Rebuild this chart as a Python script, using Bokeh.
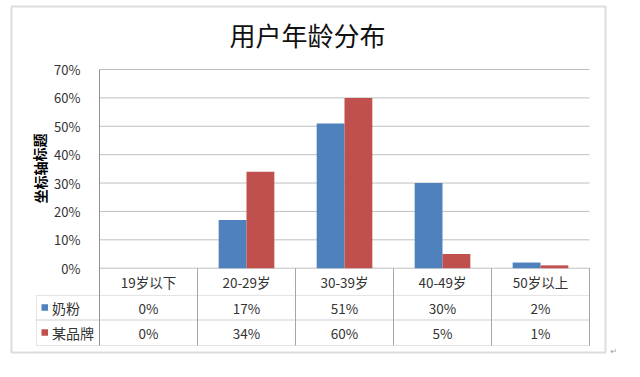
from bokeh.plotting import figure
from bokeh.models import (ColumnDataSource, Range1d, FixedTicker, PrintfTickFormatter,
                          BoxAnnotation, Label, LinearAxis)
from bokeh.transform import dodge
from bokeh.core.properties import value
from bokeh.embed import file_html
from bokeh.resources import INLINE

# ---------------- data ----------------
chart_title = "用户年龄分布"
y_axis_title = "坐标轴标题"
categories = ["19岁以下", "20-29岁", "30-39岁", "40-49岁", "50岁以上"]
series_names = ["奶粉", "某品牌"]
milk_powder = [0, 17, 51, 30, 2]
some_brand = [0, 34, 60, 5, 1]
y_ticks = [0, 10, 20, 30, 40, 50, 60, 70]

# ---------------- styles / layout ----------------
BLUE, RED = "#4F81BD", "#C0504D"
GRID = "#c0c0c0"
TABLE_LINE = "#a6a6a6"
AXIS_LINE = "#909090"
TEXT = "#333333"
FONT = "Noto Sans CJK SC"

W, H = 624, 361
PLOT_L, PLOT_R = 99, 589   # pixel positions on the page
PLOT_T, ZERO_Y, TABLE_B = 69, 267.7, 345
ROW1_B, ROW2_B = 295, 319.5
LEG_L = 36
N = len(categories)
XPX = (PLOT_R - PLOT_L) / N
YPX = (ZERO_Y - PLOT_T) / y_ticks[-1]


def dx(px):
    return (px - PLOT_L) / XPX


def dy(py):
    return (ZERO_Y - py) / YPX


p = figure(width=W, height=H, x_range=Range1d(dx(0), dx(W)), y_range=Range1d(dy(H), dy(0)),
           x_axis_location=None, y_axis_location=None, toolbar_location=None, output_backend="svg",
           min_border=0, min_border_left=0, min_border_right=0, min_border_top=0, min_border_bottom=0,
           outline_line_color=None, background_fill_color="white", border_fill_color="white")
p.grid.visible = False

# y axis drawn at the left edge of the plot area
yax = LinearAxis(fixed_location=0, bounds=(dy(TABLE_B), y_ticks[-1]),
                 ticker=FixedTicker(ticks=y_ticks), formatter=PrintfTickFormatter(format="%d%%"))
yax.axis_line_color = AXIS_LINE
yax.major_tick_line_color = None
yax.minor_tick_line_color = None
yax.major_label_standoff = 13
yax.major_label_text_font = FONT
yax.major_label_text_font_size = "13px"
yax.major_label_text_color = TEXT
p.add_layout(yax, "left")

# horizontal gridlines
gsrc = ColumnDataSource(dict(y=y_ticks))
p.segment(x0=0, y0="y", x1=N, y1="y", source=gsrc, line_color=GRID, line_width=1)

src = ColumnDataSource(dict(
    x=[i + 0.5 for i in range(N)],
    cat=categories,
    milk=milk_powder,
    brand=some_brand,
    milk_txt=[f"{v}%" for v in milk_powder],
    brand_txt=[f"{v}%" for v in some_brand],
))
lsrc = ColumnDataSource(dict(xl=[i + 1 for i in range(N)]))

BW = 0.284
p.vbar(x=dodge("x", -BW / 2), top="milk", bottom=0, width=BW, source=src,
       fill_color=BLUE, line_color=None)
p.vbar(x=dodge("x", BW / 2), top="brand", bottom=0, width=BW, source=src,
       fill_color=RED, line_color=None)

# table grid
p.segment(x0="xl", y0=0, x1="xl", y1=dy(TABLE_B), source=lsrc, line_color=TABLE_LINE, line_width=1)
p.add_layout(BoxAnnotation(left=dx(LEG_L), right=N, top=dy(ROW1_B), bottom=dy(ROW2_B), fill_color=None,
                           fill_alpha=0, line_color=TABLE_LINE, line_width=1))
p.add_layout(BoxAnnotation(left=dx(LEG_L), right=N, top=dy(ROW2_B), bottom=dy(TABLE_B), fill_color=None,
                           fill_alpha=0, line_color=TABLE_LINE, line_width=1))

# table texts
row_c = [(ZERO_Y + ROW1_B) / 2, (ROW1_B + ROW2_B) / 2, (ROW2_B + TABLE_B) / 2]
txt_kw = dict(text_font=value(FONT), text_font_size="13.5px", text_color=TEXT,
              text_align="center", text_baseline="middle")
p.text(x="x", y=dy(row_c[0]), text="cat", source=src, **txt_kw)
p.text(x="x", y=dy(row_c[1]), text="milk_txt", source=src, **txt_kw)
p.text(x="x", y=dy(row_c[2]), text="brand_txt", source=src, **txt_kw)

# legend keys in table
for name, col, yc in zip(series_names, [BLUE, RED], row_c[1:]):
    p.add_layout(BoxAnnotation(left=dx(41), right=dx(47.5), top=dy(yc - 3.5), bottom=dy(yc + 3),
                               fill_color=col, fill_alpha=1, line_color=None))
    p.add_layout(Label(x=dx(51.5), y=dy(yc), text=name, text_font=FONT, text_font_size="14px",
                       text_color=TEXT, text_align="left", text_baseline="middle"))

# title and axis title
p.add_layout(Label(x=dx(307), y=dy(34), text=chart_title, text_font=FONT, text_font_size="26px",
                   text_color="#111111", text_align="center", text_baseline="middle"))
p.add_layout(Label(x=dx(39), y=dy(168), text=y_axis_title, text_font=FONT, text_font_size="14px",
                   text_font_style="bold", text_color="#000000", angle=1.5708,
                   text_align="center", text_baseline="middle"))

# outer chart border
p.add_layout(BoxAnnotation(left=dx(11), right=dx(605), top=dy(6), bottom=dy(352), fill_color=None,
                           fill_alpha=0, line_color="#8c8c8c", line_width=2))
p.add_layout(Label(x=dx(610), y=dy(351), text="↵", text_font="DejaVu Sans", text_font_size="8px",
                   text_color="#999999", text_align="left", text_baseline="middle"))

open("out.html", "w").write(file_html(p, INLINE))
